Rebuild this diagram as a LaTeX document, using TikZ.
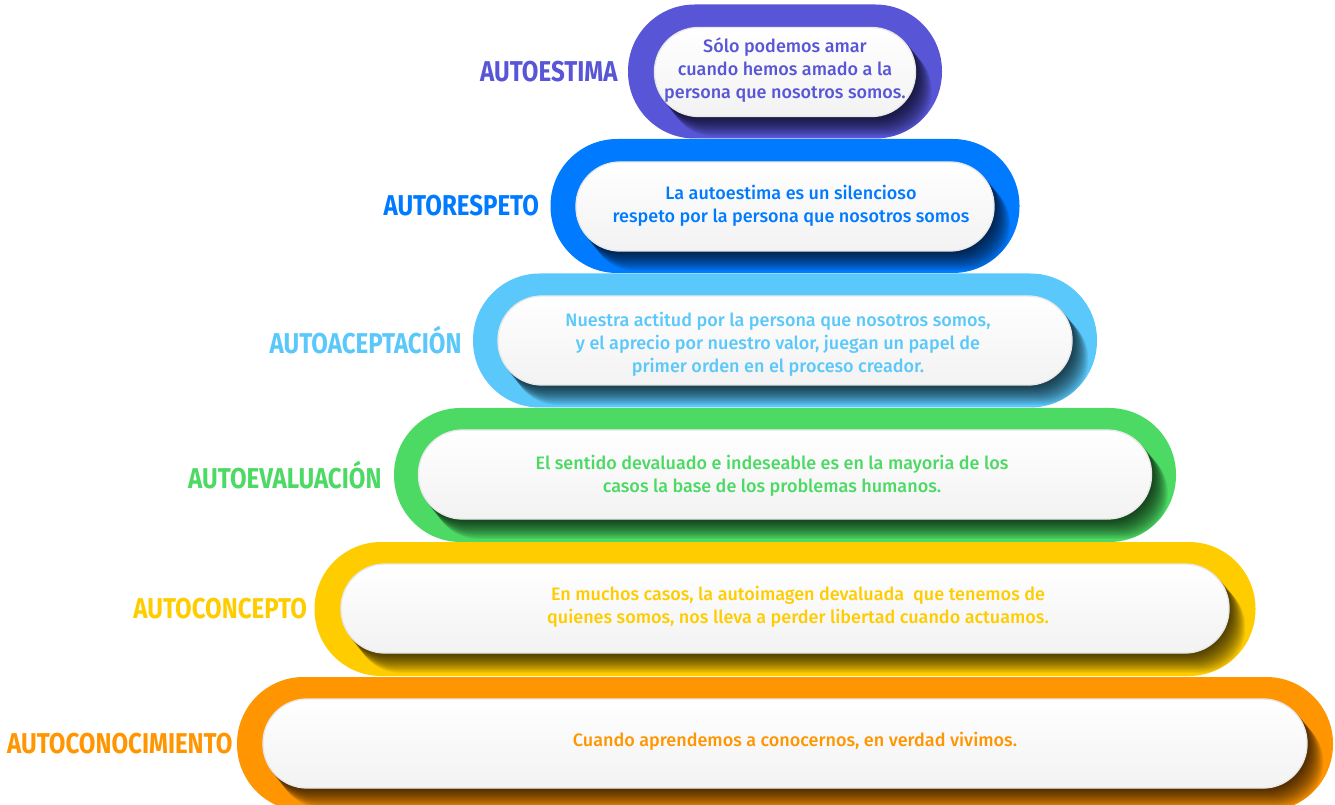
\documentclass[tikz,border=0pt]{standalone}
\usepackage{fontspec}
\setmainfont{Fira Sans}
\newfontfamily\labelfont{Fira Sans}[FakeStretch=0.84]
\newfontfamily\pillfont{Fira Sans}[UprightFont={* Medium}]
\usetikzlibrary{positioning}

\definecolor{cEstima}{HTML}{5856D6}
\definecolor{cRespeto}{HTML}{007AFF}
\definecolor{cAcepta}{HTML}{5AC8FA}
\definecolor{cEvalua}{HTML}{4CD964}
\definecolor{cConcepto}{HTML}{FFCC00}
\definecolor{cConoce}{HTML}{FF9500}

\pgfdeclarelayer{rings}
\pgfdeclarelayer{shade}
\pgfsetlayers{rings,shade,main}

\tikzset{
  ring/.style={fill=#1, rounded corners=50pt, minimum height=100.5pt, inner sep=0pt},
  card/.style={top color=white, bottom color=black!5, draw=black!9, line width=1pt,
    rounded corners=33pt, minimum height=66.75pt, inner sep=0pt},
  say/.style={text=#1, align=center, inner sep=0pt, font=\pillfont\fontsize{13.5}{17.3}\selectfont},
  tag/.style={text=#1, inner sep=0pt, font=\labelfont\bfseries\fontsize{21.5}{25}\selectfont}
}

\begin{document}
\begin{tikzpicture}[x=0.75pt, y=-0.75pt]
    \useasboundingbox (0,0) rectangle (1335,805);

    % coloured rings, widest at the bottom
    \begin{pgfonlayer}{rings}
    \node[ring=cEstima, minimum width=235.5pt] (ring1) at (785,71.5) {};
    \node[ring=cRespeto, minimum width=351.75pt] (ring2) at (785,206) {};
    \node[ring=cAcepta, minimum width=468pt] (ring3) at (785,340.5) {};
    \node[ring=cEvalua, minimum width=586.5pt] (ring4) at (785,475) {};
    \node[ring=cConcepto, minimum width=705.75pt] (ring5) at (785,609) {};
    \node[ring=cConoce, minimum width=822pt] (ring6) at (785,744) {};
    \end{pgfonlayer}

    % white cards
    \node[card, minimum width=195.75pt] (card1) at (785,72) {};
    \node[card, minimum width=313.5pt] (card2) at (785,206.5) {};
    \node[card, minimum width=430.5pt] (card3) at (785,340.5) {};
    \node[card, minimum width=549.75pt] (card4) at (785,474.5) {};
    \node[card, minimum width=666pt] (card5) at (785,608.5) {};
    \node[card, minimum width=783pt] (card6) at (785,743.5) {};

    % sentences on the cards
    \node[say=cEstima] (say1) at (785,70) {Sólo podemos amar\\cuando hemos amado a la\\persona que nosotros somos.};
    \node[say=cRespeto] (say2) at (791,206) {La autoestima es un silencioso\\respeto por la persona que nosotros somos};
    \node[say=cAcepta] (say3) at (778,344) {Nuestra actitud por la persona que nosotros somos,\\y el aprecio por nuestro valor, juegan un papel de\\primer orden en el proceso creador.};
    \node[say=cEvalua] (say4) at (772,476) {El sentido devaluado e indeseable es en la mayoria de los\\casos la base de los problemas humanos.};
    \node[say=cConcepto] (say5) at (798,607) {En muchos casos, la autoimagen devaluada~ que tenemos de\\quienes somos, nos lleva a perder libertad cuando actuamos.};
    \node[say=cConoce] (say6) at (795,741) {Cuando aprendemos a conocernos, en verdad vivimos.};

    % names on the left
    \node[tag=cEstima, left=7.5pt of ring1] (tag1) {AUTOESTIMA};
    \node[tag=cRespeto, left=8.25pt of ring2] (tag2) {AUTORESPETO};
    \node[tag=cAcepta, left=8.25pt of ring3] (tag3) {AUTOACEPTACIÓN};
    \node[tag=cEvalua, left=9pt of ring4] (tag4) {AUTOEVALUACIÓN};
    \node[tag=cConcepto, left=5.25pt of ring5] (tag5) {AUTOCONCEPTO};
    \node[tag=cConoce, left=3pt of ring6] (tag6) {AUTOCONOCIMIENTO};

    % soft shadow of each card, kept inside its ring
    \begin{pgfonlayer}{shade}
    \foreach \n in {1,...,6}{
      \begin{scope}
        \clip[rounded corners=50pt] (ring\n.south west) rectangle (ring\n.north east);
        \foreach \k in {1,...,18}
          \fill[black, opacity=0.055, rounded corners=33pt]
            ([xshift=\k*0.65pt, yshift=-\k*0.8pt]card\n.south west) rectangle ([xshift=\k*0.65pt, yshift=-\k*0.8pt]card\n.north east);
      \end{scope}
    }
    \end{pgfonlayer}
\end{tikzpicture}
\end{document}
